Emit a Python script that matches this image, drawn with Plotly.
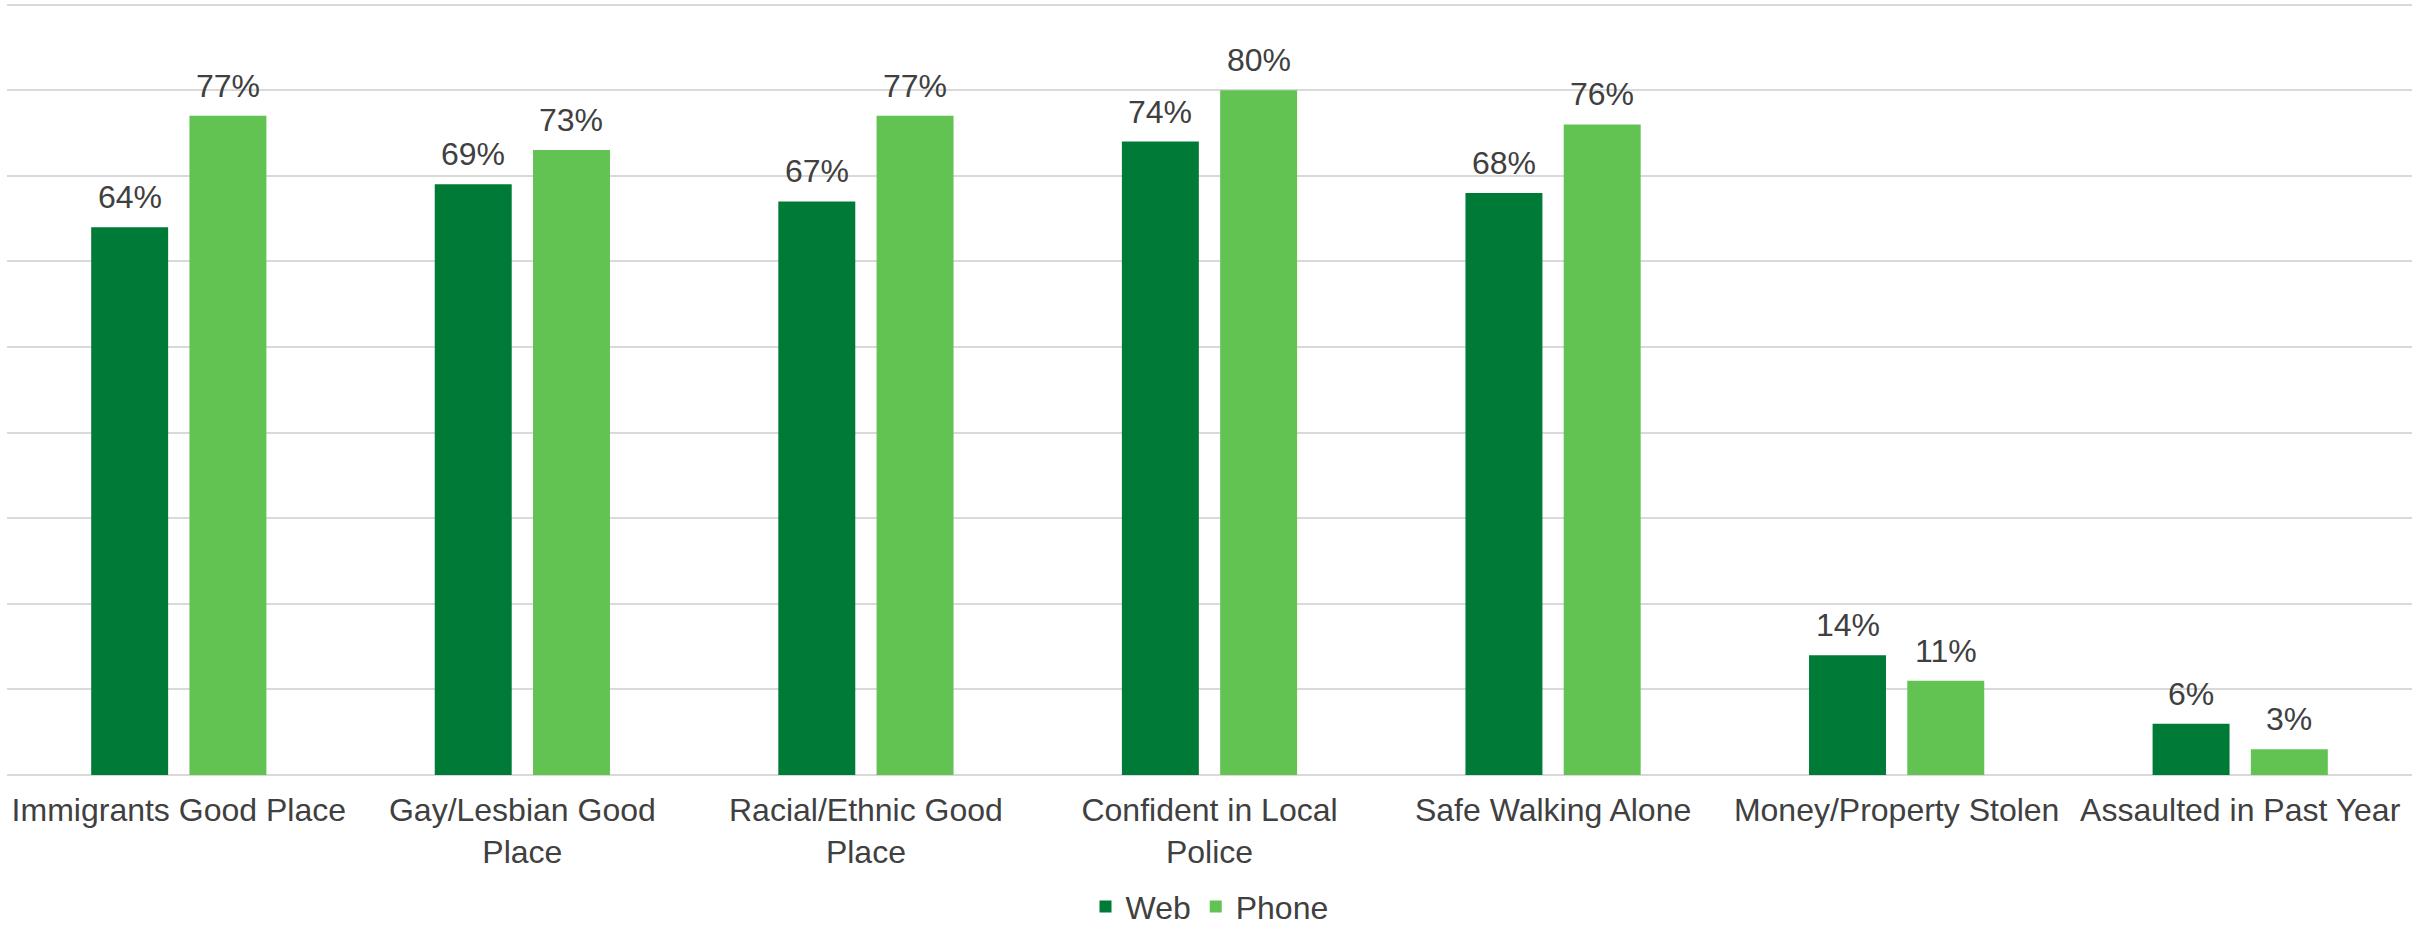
import numpy as np
import plotly.graph_objects as go

# Survey measures, web vs phone mode (percent)
categories = [
    "Immigrants Good Place",
    "Gay/Lesbian Good<br>Place",
    "Racial/Ethnic Good<br>Place",
    "Confident in Local<br>Police",
    "Safe Walking Alone",
    "Money/Property Stolen",
    "Assaulted in Past Year",
]
web = [64, 69, 67, 74, 68, 14, 6]
phone = [77, 73, 77, 80, 76, 11, 3]

WEB_COLOR = "#007A37"
PHONE_COLOR = "#62C353"
TEXT_COLOR = "#404040"
GRID_COLOR = "#D9D9D9"
FONT = "Liberation Sans, Arial, sans-serif"
FONT_SIZE = 32

# bar geometry within each category slot (fractions of one category)
BAR_W = 0.224
WEB_OFF = -0.255
PHONE_OFF = 0.031

x = np.arange(len(categories))

fig = go.Figure()
fig.add_trace(go.Bar(
    name="Web", x=x, y=web, width=BAR_W, offset=WEB_OFF,
    marker=dict(color=WEB_COLOR, line=dict(width=0)),
))
fig.add_trace(go.Bar(
    name="Phone", x=x, y=phone, width=BAR_W, offset=PHONE_OFF,
    marker=dict(color=PHONE_COLOR, line=dict(width=0)),
))

# value labels above each bar
for series, off in ((web, WEB_OFF), (phone, PHONE_OFF)):
    for xi, v in zip(x, series):
        fig.add_annotation(
            x=xi + off + BAR_W / 2, y=v, xref="x", yref="y",
            text=f"{v}%", showarrow=False,
            yanchor="bottom", yshift=10,
            font=dict(family=FONT, size=FONT_SIZE, color=TEXT_COLOR),
        )

fig.update_layout(
    width=2412, height=929,
    margin=dict(l=7, r=0, t=2, b=154, autoexpand=False),
    paper_bgcolor="white", plot_bgcolor="white",
    font=dict(family=FONT, size=FONT_SIZE, color=TEXT_COLOR),
    showlegend=True,
    legend=dict(
        orientation="h", x=0.5, xanchor="center",
        yref="container", y=0.024, yanchor="middle",
        font=dict(family=FONT, size=FONT_SIZE, color=TEXT_COLOR),
        bgcolor="rgba(0,0,0,0)",
    ),
)
fig.update_xaxes(
    range=[-0.5, len(categories) - 0.5],
    tickmode="array", tickvals=x, ticktext=categories,
    showgrid=False, zeroline=False, showline=False, ticks="",
    ticklabelstandoff=13, automargin=False,
    tickfont=dict(family=FONT, size=FONT_SIZE, color=TEXT_COLOR),
)
fig.update_yaxes(
    range=[0, 90.3], tickmode="array", tickvals=list(range(0, 100, 10)),
    showticklabels=False, automargin=False,
    showgrid=True, gridcolor=GRID_COLOR, gridwidth=1.5,
    zeroline=True, zerolinecolor=GRID_COLOR, zerolinewidth=1.5,
    showline=False, ticks="",
)

fig.write_html("out.html")
